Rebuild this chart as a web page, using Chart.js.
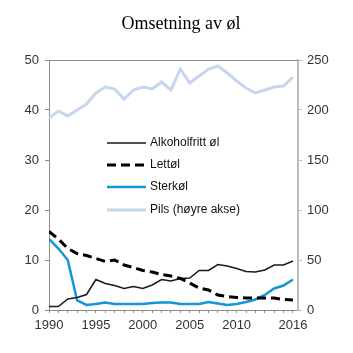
<!DOCTYPE html>
<html>
<head>
<meta charset="utf-8">
<script src="https://cdn.jsdelivr.net/npm/chart.js@4"></script>
<style>
html,body{margin:0;padding:0;background:#fff;}
#wrap{position:relative;width:353px;height:353px;}
</style>
</head>
<body>
<div id="wrap"><canvas id="c" width="353" height="353"></canvas></div>
<script>
const chartTitle = "Omsetning av øl";
const years = [1990,1991,1992,1993,1994,1995,1996,1997,1998,1999,2000,2001,2002,2003,2004,2005,2006,2007,2008,2009,2010,2011,2012,2013,2014,2015,2016];
const xTickLabels = [1990,1995,2000,2005,2010,2016];
const leftTicks = [0,10,20,30,40,50];
const rightTicks = [0,50,100,150,200,250];
const seriesNames = ["Alkoholfritt øl","Lettøl","Sterkøl","Pils (høyre akse)"];
const alkoholfritt = [0.7,0.7,2.2,2.5,3.1,6.1,5.3,4.9,4.3,4.7,4.3,5.0,6.1,5.8,6.3,6.4,7.9,7.9,9.1,8.8,8.3,7.7,7.6,8.0,9.0,9.0,9.8];
const lettol = [15.7,14.2,12.3,11.3,10.9,10.3,9.7,10.0,9.0,8.5,7.9,7.6,7.1,6.8,6.3,5.4,4.4,4.0,3.0,2.7,2.5,2.4,2.4,2.4,2.4,2.1,2.0];
const sterkol = [14.2,12.3,10.0,1.9,1.0,1.2,1.5,1.2,1.2,1.2,1.2,1.4,1.5,1.5,1.2,1.2,1.2,1.6,1.3,1.0,1.2,1.6,2.1,3.0,4.3,4.9,6.1];
const pils = [192,199,194,200,206,217,223,221,211,220,223,221,228,220,241,227,234,241,244,237,229,222,217,220,223,224,233];

const pts = arr => years.map((y,i)=>({x:y,y:arr[i]}));
const FONT = "'Liberation Sans', Arial, sans-serif";
const tickColor = '#333';

const overlay = {
  id:'overlay',
  afterDraw(chart){
    const ctx = chart.ctx, a = chart.chartArea;
    ctx.save();
    // top border
    ctx.strokeStyle = '#8c8c8c'; ctx.lineWidth = 1;
    ctx.beginPath(); ctx.moveTo(a.left, a.top+0.5); ctx.lineTo(a.right, a.top+0.5); ctx.stroke();
    // title
    ctx.fillStyle = '#000';
    ctx.font = "18px 'Liberation Serif', 'Times New Roman', serif";
    ctx.textAlign = 'center'; ctx.textBaseline = 'middle';
    ctx.fillText(chartTitle, 181, 24);
    // legend
    const rows = [143,165,187,210];
    ctx.font = "12px " + FONT;
    ctx.textAlign = 'left';
    chart.data.datasets.forEach((ds,i)=>{
      const y = rows[i];
      ctx.strokeStyle = ds.borderColor; ctx.lineWidth = ds.borderWidth;
      ctx.setLineDash(ds.borderDash || []);
      ctx.beginPath(); ctx.moveTo(107, y); ctx.lineTo(146, y); ctx.stroke();
      ctx.setLineDash([]);
      ctx.fillStyle = '#111';
      ctx.fillText(ds.label, 150, y);
    });
    ctx.restore();
  }
};

new Chart(document.getElementById('c'), {
  type:'line',
  data:{
    datasets:[
      {label:seriesNames[0], data:pts(alkoholfritt), yAxisID:'y', borderColor:'#1a1a1a', borderWidth:1.5, pointRadius:0, tension:0, order:2},
      {label:seriesNames[1], data:pts(lettol), yAxisID:'y', borderColor:'#000', borderWidth:3, borderDash:[9,5], pointRadius:0, tension:0, order:1},
      {label:seriesNames[2], data:pts(sterkol), yAxisID:'y', borderColor:'#1496d4', borderWidth:2.5, pointRadius:0, tension:0, order:3},
      {label:seriesNames[3], data:pts(pils), yAxisID:'y2', borderColor:'#c7d6ef', borderWidth:3, pointRadius:0, tension:0, order:4}
    ]
  },
  options:{
    responsive:false, animation:false,
    layout:{padding:{top:60,left:0,right:0,bottom:0}},
    plugins:{legend:{display:false}, title:{display:false}, tooltip:{enabled:false}},
    scales:{
      x:{
        type:'linear', min:1990, max:2016.54,
        afterBuildTicks(s){ s.ticks = years.map(v=>({value:v})); },
        afterFit(s){ s.height = 43; },
        ticks:{autoSkip:false, maxRotation:0, padding:5, color:tickColor, font:{family:FONT,size:13},
          callback:(v)=> xTickLabels.includes(v) ? String(v) : ''},
        grid:{drawOnChartArea:false, tickLength:3, color:'#8c8c8c'},
        border:{color:'#8c8c8c', width:1}
      },
      y:{
        position:'left', min:0, max:50,
        afterBuildTicks(s){ s.ticks = leftTicks.map(v=>({value:v})); },
        afterFit(s){ s.width = 49; },
        ticks:{padding:6, color:tickColor, font:{family:FONT,size:13}},
        grid:{drawOnChartArea:false, tickLength:4, color:'#8c8c8c'},
        border:{color:'#8c8c8c', width:1}
      },
      y2:{
        position:'right', min:0, max:250,
        afterBuildTicks(s){ s.ticks = rightTicks.map(v=>({value:v})); },
        afterFit(s){ s.width = 55; },
        ticks:{padding:5, color:tickColor, font:{family:FONT,size:13}},
        grid:{drawOnChartArea:false, tickLength:4, color:'#bdbdbd', lineWidth:1},
        border:{color:'#bdbdbd', width:2}
      }
    }
  },
  plugins:[overlay]
});
</script>
</body>
</html>
